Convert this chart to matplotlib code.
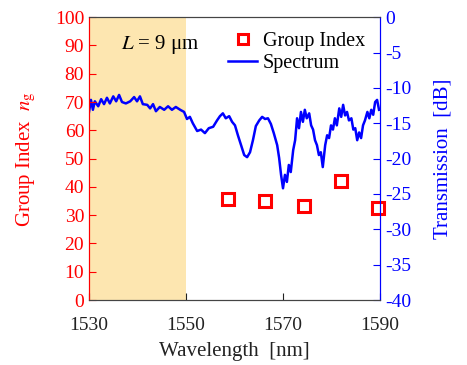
import matplotlib

matplotlib.use("Agg")

import matplotlib.pyplot as plt

plt.rcParams["font.family"] = ["Liberation Serif", "DejaVu Serif"]
plt.rcParams["mathtext.fontset"] = "stix"
plt.rcParams["axes.unicode_minus"] = False

# group index points
gi_wavelength = [1558.7, 1566.3, 1574.3, 1582.0, 1589.6]
gi_values = [35.7, 35.0, 33.2, 42.0, 32.5]

# transmission spectrum
spec_wavelength = [
    1530.0, 1530.4, 1530.8, 1531.2, 1531.9, 1532.5, 1533.1, 1533.7, 1534.3, 1535.0,
    1535.6, 1536.2, 1536.8, 1537.6, 1538.5, 1539.3, 1539.9, 1540.5, 1541.1, 1542.0,
    1542.6, 1543.2, 1543.8, 1544.6, 1545.5, 1546.3, 1547.1, 1547.9, 1548.8, 1549.6,
    1550.2, 1550.8, 1551.4, 1552.3, 1553.1, 1553.9, 1554.7, 1555.6, 1556.4, 1557.0,
    1557.6, 1558.2, 1558.9, 1559.5, 1560.1, 1560.7, 1561.4, 1562.0, 1562.6, 1563.2,
    1563.8, 1564.4, 1565.1, 1565.7, 1566.3, 1566.9, 1567.5, 1568.1, 1568.8, 1569.2,
    1569.6, 1570.0, 1570.4, 1570.8, 1571.2, 1571.6, 1572.1, 1572.5, 1572.9, 1573.3,
    1573.7, 1574.1, 1574.5, 1574.9, 1575.4, 1575.8, 1576.2, 1576.6, 1577.0, 1577.4,
    1577.8, 1578.2, 1578.7, 1579.1, 1579.5, 1579.9, 1580.3, 1580.7, 1581.1, 1581.6,
    1582.0, 1582.4, 1582.8, 1583.2, 1583.6, 1584.1, 1584.5, 1584.9, 1585.3, 1585.7,
    1586.1, 1586.5, 1586.9, 1587.4, 1587.8, 1588.2, 1588.6, 1589.0, 1589.4, 1589.8,
]
spec_db = [
    -13.4, -11.7, -13.1, -11.9, -12.6, -11.6, -12.3, -11.4, -12.2, -11.2,
    -11.9, -11.0, -12.0, -12.2, -11.9, -11.3, -11.9, -11.2, -12.3, -12.4,
    -12.9, -12.3, -13.3, -12.7, -13.1, -12.6, -13.1, -12.7, -13.1, -13.4,
    -14.4, -14.1, -15.0, -16.1, -15.9, -16.4, -15.7, -15.5, -14.6, -14.0,
    -13.6, -14.3, -14.0, -14.8, -15.3, -16.7, -18.2, -19.5, -19.8, -19.1,
    -17.4, -15.4, -14.6, -14.1, -14.4, -14.3, -15.1, -16.4, -18.1, -19.9,
    -22.3, -24.2, -22.3, -23.3, -20.9, -21.9, -18.8, -17.4, -14.3, -15.7,
    -13.4, -14.8, -13.1, -14.3, -13.6, -15.3, -15.9, -17.4, -18.1, -19.5,
    -19.1, -21.2, -18.1, -16.7, -17.1, -15.3, -15.9, -14.3, -15.3, -12.9,
    -14.1, -12.4, -13.9, -13.4, -14.6, -14.3, -15.9, -15.7, -17.4, -16.3,
    -17.1, -15.3, -14.6, -13.4, -14.3, -13.1, -13.8, -12.0, -11.7, -13.1,
]

shade_range = (1530, 1550)
red = "#ff0000"
blue = "#0000ff"

fig = plt.figure(figsize=(4.67, 3.65), dpi=100)
ax = fig.add_axes([0.1906, 0.178, 0.6231, 0.775])
ax2 = ax.twinx()

# shade and spectrum live on the back axes, group index markers on top
ax2.axvspan(*shade_range, color="#fde6b0", lw=0, zorder=0)
ax.set_zorder(ax2.get_zorder() + 1)
ax.patch.set_visible(False)

spec_line, = ax2.plot(spec_wavelength, spec_db, color=blue, lw=1.8, zorder=2)
gi_marks, = ax.plot(gi_wavelength, gi_values, ls="none", marker="s", ms=9,
                    mfc="none", mec=red, mew=2.2, clip_on=False)

ax.set_xlim(1530, 1590)
ax.set_ylim(0, 100)
ax2.set_ylim(-40, 0)
ax.set_xticks([1530, 1550, 1570, 1590])
ax.set_yticks(range(0, 101, 10))
ax2.set_yticks(range(-40, 1, 5))

ax.tick_params(axis="x", direction="in", labelsize=14, colors="#222222", pad=12,
               length=5)
ax.tick_params(axis="y", direction="in", labelsize=14, colors=red, length=5)
ax2.tick_params(axis="y", direction="in", labelsize=14, colors=blue, length=5)

for a in (ax, ax2):
    a.spines["left"].set_color(red)
    a.spines["right"].set_color(blue)
    a.spines["top"].set_color("#444444")
    a.spines["bottom"].set_color("#444444")

ax.set_xlabel("Wavelength  [nm]", fontsize=15, color="#222222", labelpad=6)
ax.set_ylabel(r"Group Index  $n_\mathrm{g}$", fontsize=15, color=red, labelpad=12)
ax2.set_ylabel("Transmission  [dB]", fontsize=15, color=blue, labelpad=16)

ax.text(1536.6, 90.5, r"$L$ = 9 μm", fontsize=15, color="black", va="center")

ax.legend([gi_marks, spec_line], ["Group Index", "Spectrum"], loc="upper right",
          frameon=False, fontsize=14.5, handlelength=1.4, handletextpad=0.3,
          borderaxespad=0.35, labelspacing=0.15, markerscale=0.75,
          bbox_to_anchor=(1.0, 1.0))

fig.savefig("out.png", dpi=100)
